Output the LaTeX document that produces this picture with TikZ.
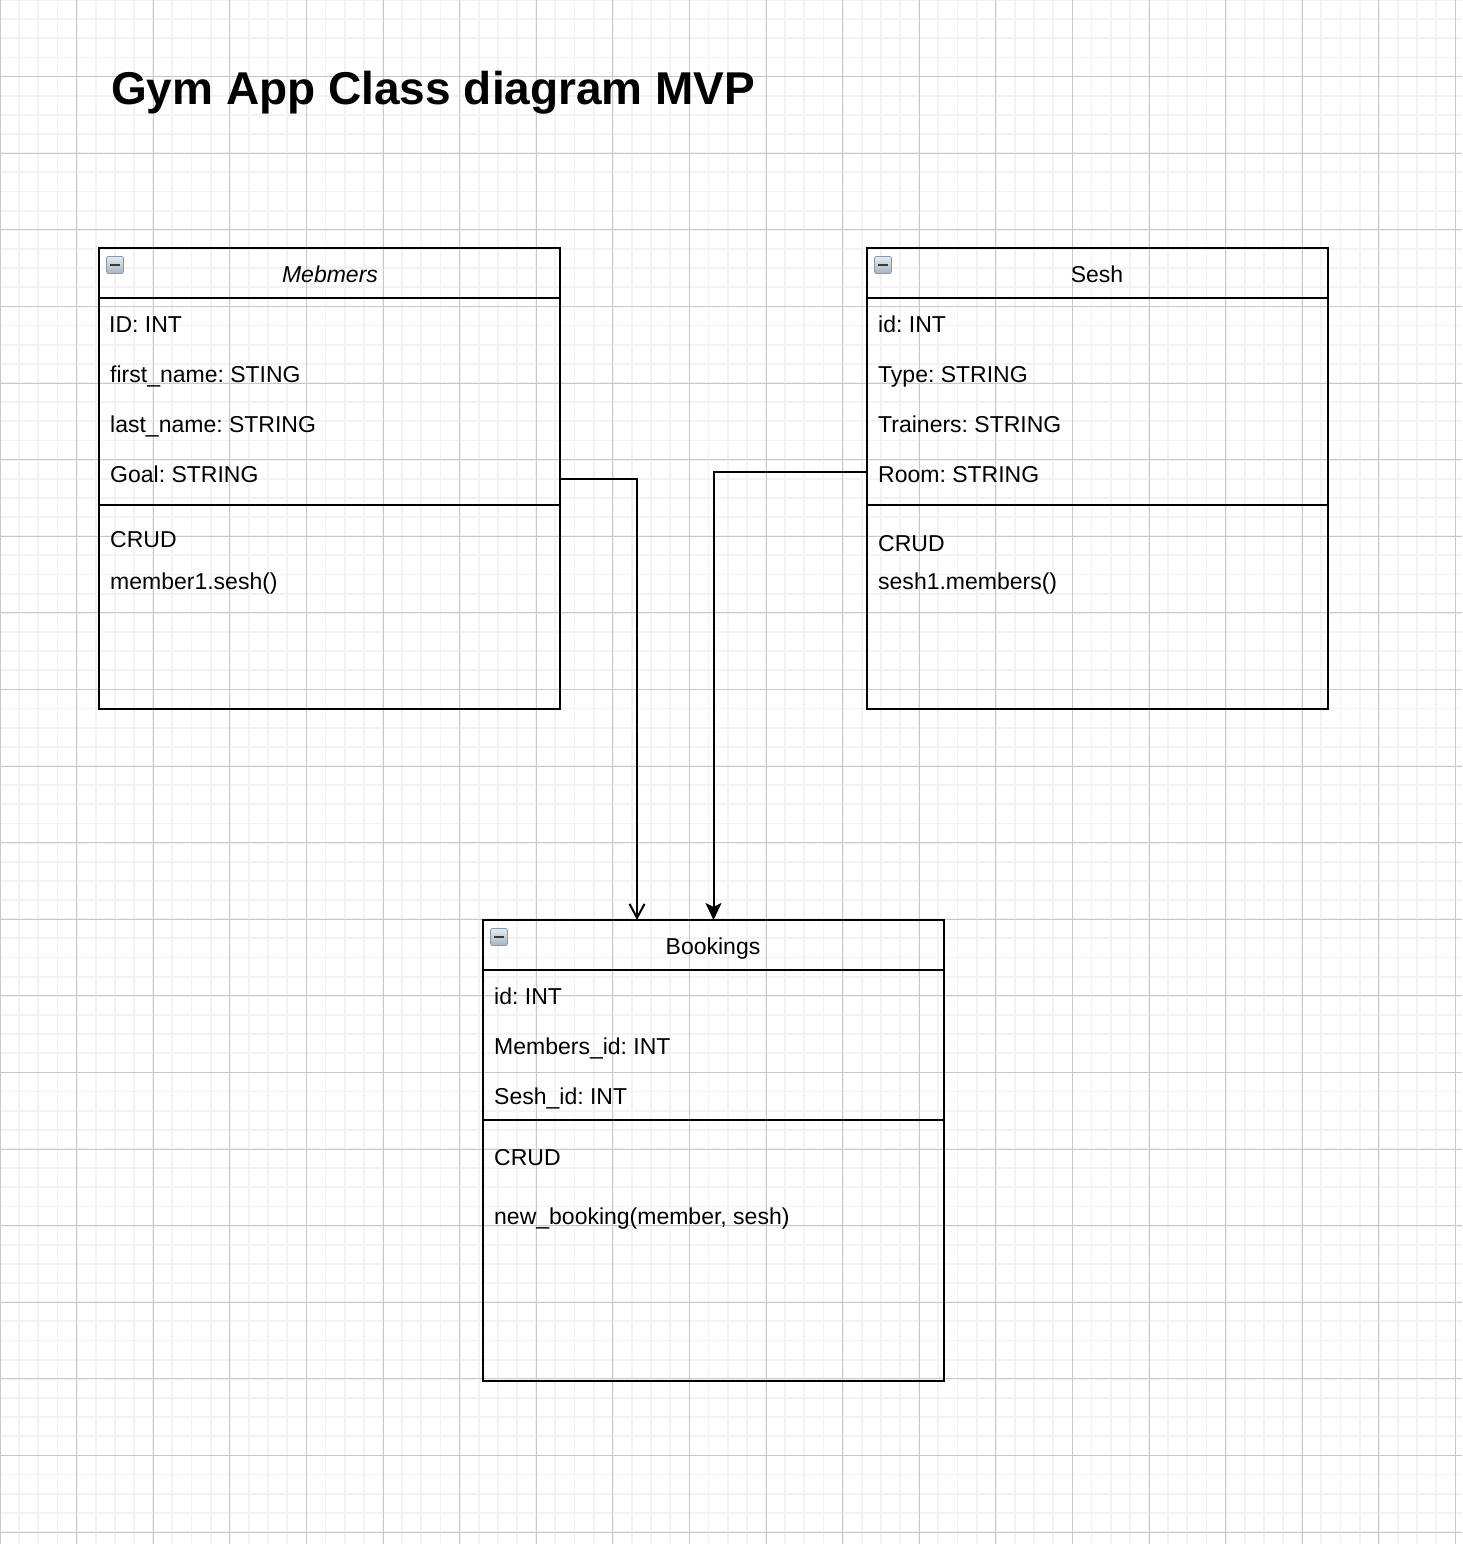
\documentclass[tikz,border=0pt]{standalone}
\usepackage{fontspec}
\setmainfont{Liberation Sans}
\usetikzlibrary{arrows.meta}
\definecolor{minorgrid}{HTML}{F3F3F3}
\definecolor{majorgrid}{HTML}{C8C8C8}
\definecolor{icontop}{HTML}{E4EAF0}
\definecolor{iconbot}{HTML}{A9B4BF}
\definecolor{iconborder}{HTML}{8C99A6}
\definecolor{iconbar}{HTML}{3A3A3A}
\frenchspacing
\begin{document}
\frenchspacing
\begin{tikzpicture}[x=1pt,y=-1pt,
  classbox/.style={draw=black, line width=2pt, minimum width=461pt, minimum height=461pt, inner sep=0pt, outer sep=0pt},
  boxline/.style={draw=black, line width=2pt},
  conn/.style={draw=black, line width=2pt},
  txt/.style={anchor=base west, inner sep=0pt, font=\fontsize{23}{27}\selectfont},
  headtxt/.style={anchor=base, inner sep=0pt, font=\fontsize{23}{27}\selectfont},
  icon/.style={draw=iconborder, line width=0.8pt, rounded corners=2pt, minimum size=17pt, inner sep=0pt,
    top color=icontop, bottom color=iconbot,
    path picture={\draw[iconbar, line width=2.6pt] ([xshift=-5pt]path picture bounding box.center) -- ([xshift=5pt]path picture bounding box.center);}}
]
\useasboundingbox (0,0) rectangle (1462,1544);
\fill[white] (0,0) rectangle (1462,1544);
% grid
\foreach \i in {0,...,77} \draw[minorgrid, line width=1.8pt] (\i*19.15,0) -- (\i*19.15,1544);
\foreach \i in {0,...,81} \draw[minorgrid, line width=1.8pt] (0,\i*19.15) -- (1462,\i*19.15);
\foreach \i in {0,...,19} \draw[majorgrid, line width=1pt] (\i*76.6,0) -- (\i*76.6,1544);
\foreach \i in {0,...,20} \draw[majorgrid, line width=1pt] (0,\i*76.6) -- (1462,\i*76.6);

% title
\node[anchor=base west, inner sep=0pt, font=\fontsize{46}{52}\selectfont\bfseries] (title) at (111,105) {Gym App Class diagram MVP};

% class boxes
\node[classbox] (members) at (329.5,478.5) {};
\node[classbox] (sesh) at (1097.5,478.5) {};
\node[classbox] (bookings) at (713.5,1150.5) {};

\draw[boxline] ([yshift=-50pt]members.north west) -- ([yshift=-50pt]members.north east);
\draw[boxline] ([yshift=-257pt]members.north west) -- ([yshift=-257pt]members.north east);
\draw[boxline] ([yshift=-50pt]sesh.north west) -- ([yshift=-50pt]sesh.north east);
\draw[boxline] ([yshift=-257pt]sesh.north west) -- ([yshift=-257pt]sesh.north east);
\draw[boxline] ([yshift=-50pt]bookings.north west) -- ([yshift=-50pt]bookings.north east);
\draw[boxline] ([yshift=-200pt]bookings.north west) -- ([yshift=-200pt]bookings.north east);

% icons
\node[icon] (membersicon) at (115,265) {};
\node[icon] (seshicon) at (883,265) {};
\node[icon] (bookingsicon) at (499,937) {};

% Members
\node[headtxt, font=\fontsize{23}{27}\selectfont\itshape] (mh) at (330,282) {Mebmers};
\node[txt] (m1) at (109,332) {ID: INT};
\node[txt] (m2) at (110,382) {first\_name: STING};
\node[txt] (m3) at (110,432) {last\_name: STRING};
\node[txt] (m4) at (110,482) {Goal: STRING};
\node[txt] (m5) at (110,547) {CRUD};
\node[txt] (m6) at (110,589) {member1.sesh()};

% Sesh
\node[headtxt] (sh) at (1097,282) {Sesh};
\node[txt] (s1) at (878,332) {id: INT};
\node[txt] (s2) at (878,382) {Type: STRING};
\node[txt] (s3) at (878,432) {Trainers: STRING};
\node[txt] (s4) at (878,482) {Room: STRING};
\node[txt] (s5) at (878,551) {CRUD};
\node[txt] (s6) at (878,589) {sesh1.members()};

% Bookings
\node[headtxt] (bh) at (713,954) {Bookings};
\node[txt] (b1) at (494,1004) {id: INT};
\node[txt] (b2) at (494,1054) {Members\_id: INT};
\node[txt] (b3) at (494,1104) {Sesh\_id: INT};
\node[txt] (b4) at (494,1165) {CRUD};
\node[txt] (b5) at (494,1224) {new\_booking(member, sesh)};

% connectors
\draw[conn, -{Straight Barb[length=14pt,width=15pt,line width=2pt]}] (members.east) -| ([xshift=-76.5pt]bookings.north);
\draw[conn, -{Stealth[length=17pt,width=16pt,inset=4pt]}] ([yshift=6.5pt]sesh.west) -| (bookings.north);
\end{tikzpicture}
\end{document}
